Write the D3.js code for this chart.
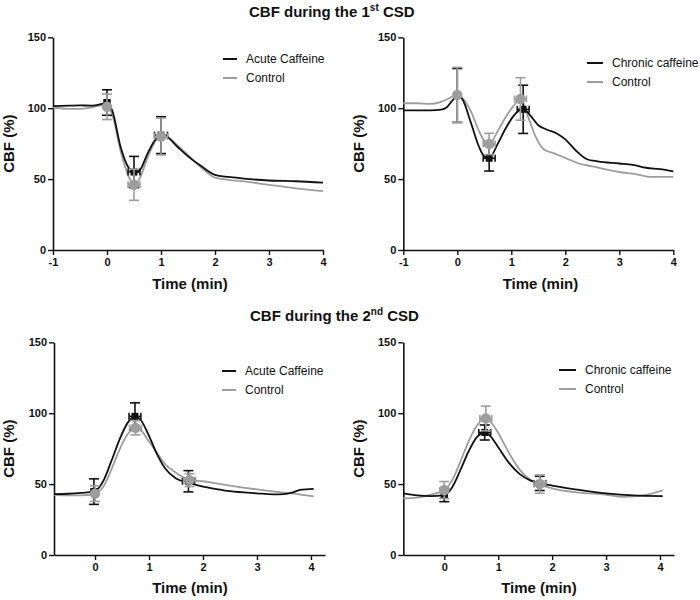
<!DOCTYPE html>
<html><head><meta charset="utf-8">
<script src="https://cdn.jsdelivr.net/npm/d3@7"></script>
<style>
body{margin:0;background:#fff;}
svg{display:block;}
text{font-family:"Liberation Sans",Arial,sans-serif;}
</style></head>
<body><svg id="c" width="700" height="600"></svg>
<script>
// ---------- DATA ----------
const titles = ["CBF during the 1", "CBF during the 2"];
const titleSups = ["st", "nd"];
const legendTop = [["Acute Caffeine", "Control"], ["Chronic caffeine", "Control"]];
const yTicks = [0, 50, 100, 150];
const xTicksTop = [-1, 0, 1, 2, 3, 4];
const xTicksBottom = [0, 1, 2, 3, 4];

// Panel 1: 1st CSD, acute caffeine
const p1Treat = [[-1,101.5],[-0.7,101.8],[-0.5,102],[-0.3,101.8],[-0.1,103],[0,104],[0.1,98],[0.25,73],[0.4,58],[0.5,55],[0.6,56],[0.75,68],[0.9,78],[1.0,81],[1.1,80],[1.3,73],[1.5,66],[1.75,59],[2,53],[2.25,51.5],[2.5,50.5],[3,49],[3.5,48.5],[4,47.5]];
const p1Ctrl = [[-1,100.5],[-0.7,99.5],[-0.5,99.5],[-0.3,100.5],[-0.1,102],[0,101],[0.1,95],[0.25,70],[0.4,52],[0.5,46],[0.6,50],[0.75,65],[0.9,77],[1.0,80],[1.1,80],[1.3,74],[1.5,67],[1.75,58],[2,51],[2.25,49.5],[2.5,48.5],[3,46],[3.5,43.5],[4,41.5]];
const p1TreatPts = [[0,104,9,0.05],[0.5,55,11,0.11],[1.0,81,13,0.12]];
const p1CtrlPts = [[0,101,9,0.05],[0.5,46,11,0.11],[1.0,80,13,0.12]];

// Panel 2: 1st CSD, chronic caffeine
const p2Treat = [[-1,98.5],[-0.7,98.5],[-0.5,98.5],[-0.3,99],[-0.2,100.5],[-0.1,105],[0,109],[0.1,106],[0.25,90],[0.4,73],[0.5,66],[0.59,64.7],[0.75,75],[0.9,86],[1.05,95],[1.22,99.5],[1.35,95],[1.5,88],[1.65,85],[1.85,82],[2,78],[2.2,70],[2.4,64],[2.6,62.5],[3,61],[3.25,60],[3.5,58],[3.75,57],[4,55.5]];
const p2Ctrl = [[-1,103.5],[-0.75,103.5],[-0.5,103],[-0.3,104.5],[-0.15,107],[0,109.5],[0.1,107],[0.25,98],[0.4,84],[0.5,77],[0.59,74.8],[0.75,84],[0.9,94],[1.05,102],[1.17,106.5],[1.3,95],[1.45,80],[1.6,71],[1.8,68],[2,65],[2.25,61],[2.5,59],[3,55],[3.3,53.5],[3.6,51.5],[4,51.5]];
const p2TreatPts = [[0,109,19,0.05],[0.59,64.7,9,0.11],[1.22,99.2,17,0.11]];
const p2CtrlPts = [[0,109.3,19.5,0.05],[0.59,74.8,7.5,0.11],[1.17,106.5,15,0.11]];

// Panel 3: 2nd CSD, acute caffeine
const p3Treat = [[-0.76,43],[-0.5,43.2],[-0.25,43.8],[-0.02,44.7],[0.15,52],[0.3,66],[0.45,81],[0.6,93],[0.74,97.8],[0.85,95],[1,84],[1.15,71],[1.3,61],[1.5,54],[1.73,51],[2,48.2],[2.25,46.5],[2.5,45],[3,43.5],[3.3,42.8],[3.5,43],[3.65,44],[3.8,46],[4.05,46.7]];
const p3Ctrl = [[-0.76,42.5],[-0.5,42],[-0.25,42],[0,43.3],[0.15,48],[0.3,60],[0.45,74],[0.6,85],[0.75,89.7],[0.85,88],[1,80],[1.15,72],[1.3,64],[1.5,58],[1.75,53],[2,52],[2.25,50.5],[2.5,49],[3,46.3],[3.5,44],[3.75,43],[4.05,41.3]];
const p3TreatPts = [[-0.02,44.7,9,0.05],[0.74,97.8,9.5,0.11],[1.73,52,7.5,0.11]];
const p3CtrlPts = [[0,43.3,5.5,0.05],[0.75,89.7,5,0.11],[1.75,52.8,4.5,0.11]];

// Panel 4: 2nd CSD, chronic caffeine
const p4Treat = [[-0.76,43.5],[-0.5,42],[-0.25,41.5],[0,42.3],[0.15,48],[0.3,60],[0.45,73],[0.6,83],[0.75,86.4],[0.85,84],[1,76],[1.2,65],[1.4,57],[1.6,52.5],[1.77,50.5],[2,49],[2.5,46],[3,43.5],[3.5,42],[4.05,41.5]];
const p4Ctrl = [[-0.76,40],[-0.5,40.5],[-0.25,42.5],[0,45.8],[0.15,53],[0.3,66],[0.45,80],[0.6,91],[0.77,96.3],[0.9,92],[1,86],[1.2,72],[1.4,60],[1.6,53],[1.77,50],[2,47],[2.5,44],[3,42.5],[3.3,41],[3.6,41.5],[4.05,45.5]];
const p4TreatPts = [[0,42.3,4.7,0.05],[0.75,86.4,5.3,0.11],[1.77,50.5,5,0.11]];
const p4CtrlPts = [[0,45.8,6,0.05],[0.77,96.3,8.7,0.11],[1.77,50,6.5,0.11]];

// ---------- DRAW ----------
const svg = d3.select("#c");
const BLACK = "#111", GRAY = "#9d9d9d";
const FONT = "'Liberation Sans',Arial,sans-serif";

const panels = [
  {x0:53, x1:323, yb:250, yt:37.3, dom:[-1,4], xt:xTicksTop, treat:p1Treat, ctrl:p1Ctrl, tp:p1TreatPts, cp:p1CtrlPts, leg:legendTop[0], lx:223, ly:59, lw:14, ylab:14, xlabX:190, xlabY:288.5},
  {x0:403.3, x1:673.3, yb:250, yt:37.3, dom:[-1,4], xt:xTicksTop, treat:p2Treat, ctrl:p2Ctrl, tp:p2TreatPts, cp:p2CtrlPts, leg:legendTop[1], lx:587, ly:63, lw:16, ylab:364, xlabX:540.5, xlabY:288.5},
  {x0:54, x1:325, yb:555, yt:342.3, dom:[-0.76,4.26], xt:xTicksBottom, treat:p3Treat, ctrl:p3Ctrl, tp:p3TreatPts, cp:p3CtrlPts, leg:legendTop[0], lx:222, ly:371, lw:14, ylab:14, xlabX:190, xlabY:593},
  {x0:403.3, x1:674, yb:555, yt:342.3, dom:[-0.76,4.26], xt:xTicksBottom, treat:p4Treat, ctrl:p4Ctrl, tp:p4TreatPts, cp:p4CtrlPts, leg:legendTop[1], lx:559, ly:370, lw:17, ylab:364, xlabX:539, xlabY:593}
];

panels.forEach(p => {
  const x = d3.scaleLinear().domain(p.dom).range([p.x0, p.x1]);
  const y = d3.scaleLinear().domain([0,150]).range([p.yb, p.yt]);
  const g = svg.append("g");

  // axes
  const ya = g.append("g").attr("transform", `translate(${p.x0},0)`)
    .call(d3.axisLeft(y).tickValues(yTicks).tickSize(5).tickSizeOuter(0).tickPadding(2).tickFormat(d => String(d)));
  const xa = g.append("g").attr("transform", `translate(0,${p.yb})`)
    .call(d3.axisBottom(x).tickValues(p.xt).tickSize(5).tickSizeOuter(0).tickPadding(3).tickFormat(d => String(d)));
  [ya, xa].forEach(a => {
    a.select(".domain").attr("stroke", BLACK).attr("stroke-width", 1.6);
    a.selectAll(".tick line").attr("stroke", BLACK).attr("stroke-width", 1.4);
    a.selectAll(".tick text").attr("fill", BLACK).attr("font-family", FONT)
      .attr("font-size", 11).attr("font-weight", "bold");
  });

  // axis titles
  g.append("text").attr("transform", `translate(${p.ylab},${(p.yb+p.yt)/2}) rotate(-90)`)
    .attr("text-anchor","middle").attr("font-size",15).attr("font-weight","bold").attr("fill",BLACK)
    .text("CBF (%)");
  g.append("text").attr("x", p.xlabX).attr("y", p.xlabY)
    .attr("text-anchor","middle").attr("font-size",15).attr("font-weight","bold").attr("fill",BLACK)
    .text("Time (min)");

  const line = d3.line().x(d => x(d[0])).y(d => y(d[1])).curve(d3.curveMonotoneX);
  g.append("path").datum(p.ctrl).attr("d", line).attr("fill","none").attr("stroke",GRAY).attr("stroke-width",1.8);
  g.append("path").datum(p.treat).attr("d", line).attr("fill","none").attr("stroke",BLACK).attr("stroke-width",1.8);

  function errs(pts, col) {
    const e = g.append("g").attr("stroke", col).attr("stroke-width", 1.6).attr("fill","none");
    pts.forEach(d => {
      const cx = x(d[0]), cy = y(d[1]);
      const top = y(d[1]+d[2]), bot = y(d[1]-d[2]);
      const l = x(d[0]-d[3]), r = x(d[0]+d[3]);
      e.append("line").attr("x1",cx).attr("x2",cx).attr("y1",top).attr("y2",bot);
      e.append("line").attr("x1",cx-5).attr("x2",cx+5).attr("y1",top).attr("y2",top);
      e.append("line").attr("x1",cx-5).attr("x2",cx+5).attr("y1",bot).attr("y2",bot);
      e.append("line").attr("x1",l).attr("x2",r).attr("y1",cy).attr("y2",cy);
      e.append("line").attr("x1",l).attr("x2",l).attr("y1",cy-3.5).attr("y2",cy+3.5);
      e.append("line").attr("x1",r).attr("x2",r).attr("y1",cy-3.5).attr("y2",cy+3.5);
    });
  }
  errs(p.tp, BLACK);
  g.selectAll(null).data(p.tp).enter().append("rect")
    .attr("x", d => x(d[0]) - 3.5).attr("y", d => y(d[1]) - 3.5)
    .attr("width", 7).attr("height", 7).attr("fill", BLACK);
  errs(p.cp, GRAY);
  g.selectAll(null).data(p.cp).enter().append("circle")
    .attr("cx", d => x(d[0])).attr("cy", d => y(d[1])).attr("r", 5.2).attr("fill", GRAY);

  // legend
  [[BLACK, p.leg[0], 0], [GRAY, p.leg[1], 19]].forEach(([c, t, dy]) => {
    g.append("line").attr("x1", p.lx).attr("x2", p.lx + p.lw).attr("y1", p.ly + dy).attr("y2", p.ly + dy)
      .attr("stroke", c).attr("stroke-width", 2);
    g.append("text").attr("x", p.lx + p.lw + 9).attr("y", p.ly + dy + 4.3)
      .attr("font-size", 12).attr("fill", BLACK).text(t);
  });
});

// titles
[[249,17],[250,321]].forEach(([tx,ty], i) => {
  const t = svg.append("text").attr("x", tx).attr("y", ty).attr("font-size", 15)
    .attr("font-weight","bold").attr("fill", BLACK);
  t.append("tspan").text(titles[i]);
  t.append("tspan").attr("font-size", 10).attr("dy", -6).text(titleSups[i]);
  t.append("tspan").attr("dy", 6).text(" CSD");
});
</script></body></html>
